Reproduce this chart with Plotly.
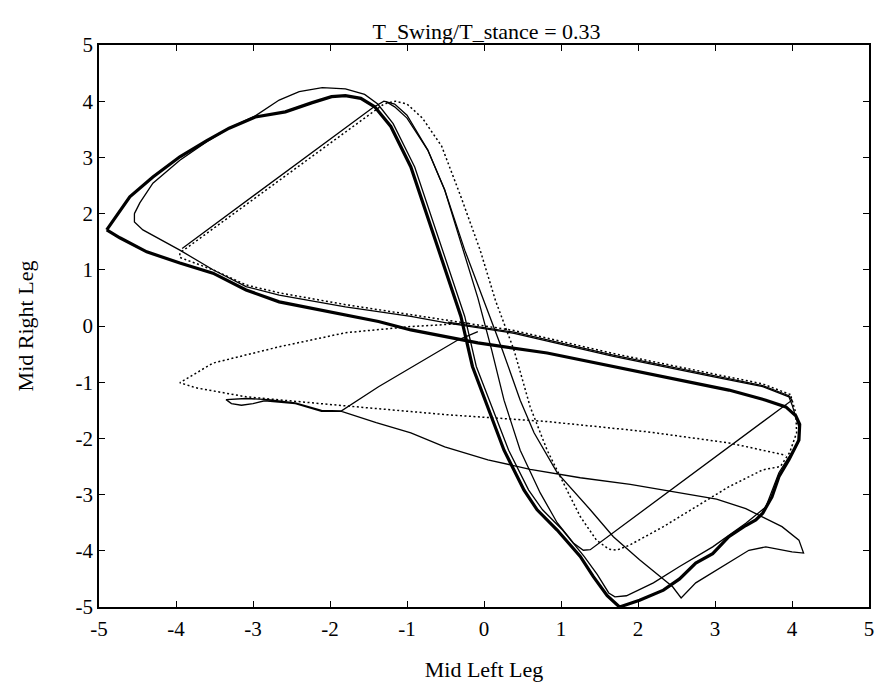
import plotly.graph_objects as go

# ---- data ----
thick_x = [-4.90, -4.75, -4.60, -4.30, -3.95, -3.60, -3.31, -2.97, -2.58, -2.24, -1.98, -1.80, -1.60, -1.42,
           -1.21, -0.95, -0.73, -0.51, -0.30, -0.15, 0.09, 0.26, 0.52, 0.69, 0.95, 1.25, 1.42, 1.60, 1.76,
           2.02, 2.33, 2.54, 2.75, 2.97, 3.18, 3.40, 3.53, 3.62, 3.74, 3.83, 3.96, 4.09, 4.10, 4.05, 3.92,
           3.66, 3.18, 2.54, 1.68, 0.82, -0.08, -0.47, -0.95, -1.37, -2.24, -2.66, -3.09, -3.52, -3.95,
           -4.38, -4.73, -4.90]
thick_y = [1.71, 2.00, 2.30, 2.65, 3.01, 3.30, 3.52, 3.72, 3.81, 3.97, 4.08, 4.10, 4.05, 3.90,
           3.55, 2.83, 1.94, 1.06, 0.17, -0.72, -1.61, -2.21, -2.92, -3.27, -3.63, -4.10, -4.46, -4.80, -5.00,
           -4.88, -4.70, -4.50, -4.22, -4.05, -3.75, -3.55, -3.45, -3.33, -3.04, -2.68, -2.38, -2.03, -1.75, -1.60, -1.44,
           -1.32, -1.14, -0.96, -0.72, -0.48, -0.30, -0.20, -0.07, 0.08, 0.32, 0.43, 0.64, 0.94, 1.12,
           1.32, 1.57, 1.71]

loop2_x = [-4.54, -4.47, -4.30, -3.95, -3.60, -3.31, -2.97, -2.66, -2.40, -2.10, -1.80, -1.55, -1.38, -1.18,
           -0.90, -0.68, -0.46, -0.25, -0.10, 0.15, 0.32, 0.58, 0.76, 1.02, 1.30, 1.47, 1.62, 1.70, 1.85,
           2.20, 2.54, 2.97, 3.40, 3.66, 3.83, 3.95, 4.08, 4.09, 4.05, 4.00, 3.96, 3.62, 2.97, 1.68, 0.39,
           -0.47, -0.95, -1.80, -2.66, -3.09, -3.52, -3.95, -4.43, -4.54, -4.54]
loop2_y = [2.00, 2.19, 2.54, 2.95, 3.28, 3.52, 3.74, 4.02, 4.17, 4.24, 4.22, 4.12, 3.95, 3.60,
           2.83, 1.94, 1.06, 0.17, -0.72, -1.61, -2.21, -2.92, -3.27, -3.63, -4.10, -4.42, -4.75, -4.82, -4.80,
           -4.57, -4.28, -3.93, -3.51, -3.22, -2.61, -2.35, -2.08, -1.80, -1.61, -1.40, -1.26, -1.08, -0.90, -0.54, -0.13,
           0.05, 0.17, 0.34, 0.55, 0.70, 1.00, 1.35, 1.71, 1.85, 2.00]

diag_x = [-3.92, -1.45, -1.30, -1.16, -1.00, -0.73, -0.51, -0.27, -0.08, 0.10, 0.26, 0.47, 0.73, 0.95,
          1.16, 1.29, 1.38, 4.00, 3.96, 3.62, 2.97, 1.68, 0.39, -0.47]
diag_y = [1.38, 3.88, 4.00, 3.95, 3.75, 3.13, 2.42, 1.35, 0.50, -0.43, -1.32, -2.21, -2.97, -3.50,
          -3.86, -3.99, -3.98, -1.32, -1.24, -1.06, -0.88, -0.52, -0.11, 0.07]

tail_x = [-0.08, -0.34, -1.37, -1.85, -2.11, -2.45, -2.80, -3.09, -3.35, -3.28, -3.15, -3.00, -2.85, -2.45,
          -2.11, -1.85, -1.40, -0.95, -0.51, 0.05, 0.60, 1.25, 1.90, 2.54, 3.02, 3.40, 3.62, 3.87, 4.09,
          4.15, 4.00, 3.66, 3.44, 3.10, 2.75, 2.56, 2.45, 2.02, 1.68, 1.38, 0.95, 0.65, 0.47, 0.24, -0.02,
          -0.25, -0.51, -0.73, -1.00, -1.16, -1.28]
tail_y = [-0.10, -0.25, -1.08, -1.51, -1.50, -1.37, -1.31, -1.29, -1.31, -1.38, -1.41, -1.38, -1.33, -1.38,
          -1.52, -1.52, -1.72, -1.90, -2.15, -2.38, -2.55, -2.70, -2.82, -2.97, -3.08, -3.25, -3.40, -3.57, -3.81,
          -4.04, -4.02, -3.93, -3.99, -4.28, -4.57, -4.84, -4.64, -4.16, -3.75, -3.27, -2.61, -1.90, -1.32, -0.43, 0.50,
          1.35, 2.42, 3.13, 3.70, 3.90, 4.00]

dot1_x = [3.98, 3.62, 2.97, 1.68, 0.39, -0.47, -0.95, -1.80, -2.66, -3.09, -3.52, -3.80, -3.95, -3.95,
          -1.42, -1.30, -1.15, -1.00, -0.80, -0.55, -0.30, -0.05, 0.15, 0.39, 0.60, 0.82, 1.03, 1.25, 1.46,
          1.62, 1.72, 1.89, 2.33, 2.75, 3.18, 3.62, 3.85, 3.97, 4.06, 4.05, 3.98]
dot1_y = [-1.22, -1.03, -0.85, -0.49, -0.08, 0.10, 0.21, 0.38, 0.59, 0.73, 1.00, 1.15, 1.22, 1.30,
          3.84, 3.95, 4.00, 3.95, 3.70, 3.20, 2.30, 1.35, 0.45, -0.43, -1.44, -2.21, -2.79, -3.39, -3.81,
          -3.97, -3.99, -3.90, -3.57, -3.22, -2.86, -2.56, -2.50, -2.25, -1.90, -1.55, -1.22]

dot2_x = [-0.20, -0.95, -1.80, -2.66, -3.52, -3.95, -3.74, -3.09, -1.89, -0.47, 0.82, 2.11, 3.18, 3.92]
dot2_y = [0.05, -0.01, -0.12, -0.37, -0.66, -1.01, -1.10, -1.26, -1.41, -1.58, -1.70, -1.88, -2.08, -2.30]

tick_vals = [-5, -4, -3, -2, -1, 0, 1, 2, 3, 4, 5]
tick_text = [str(v) for v in tick_vals]

FONT = "Liberation Serif"

fig = go.Figure()
def add(x, y, width, dash="solid"):
    fig.add_trace(go.Scatter(x=x, y=y, mode="lines", showlegend=False, hoverinfo="skip",
                             line=dict(color="black", width=width, dash=dash)))

add(dot2_x, dot2_y, 1.5, "2px,2.5px")
add(dot1_x, dot1_y, 1.5, "2px,2.5px")
add(diag_x, diag_y, 1.3)
add(tail_x, tail_y, 1.3)
add(loop2_x, loop2_y, 1.3)
add(thick_x, thick_y, 3.2)

axis_common = dict(range=[-5, 5], tickvals=tick_vals, ticktext=tick_text, ticks="inside", ticklen=6,
                   tickwidth=1.3, tickcolor="black", showline=True, linecolor="black", linewidth=1.6,
                   mirror="ticks", showgrid=False, zeroline=False,
                   tickfont=dict(family=FONT, size=21, color="black"))

fig.update_layout(
    width=882, height=689,
    margin=dict(l=99, r=8, t=45, b=82),
    paper_bgcolor="white", plot_bgcolor="white",
    title=dict(text="T_Swing/T_stance = 0.33", x=486.5 / 882, xanchor="center",
               y=1 - 31 / 689, yanchor="middle", font=dict(family=FONT, size=22, color="black")),
    xaxis=dict(**axis_common, ticklabelstandoff=2,
               title=dict(text="Mid Left Leg", font=dict(family=FONT, size=22, color="black"), standoff=22)),
    yaxis=dict(**axis_common,
               title=dict(text="Mid Right Leg", font=dict(family=FONT, size=22, color="black"), standoff=36)),
)

fig.write_html("out.html", config={"displayModeBar": False})
